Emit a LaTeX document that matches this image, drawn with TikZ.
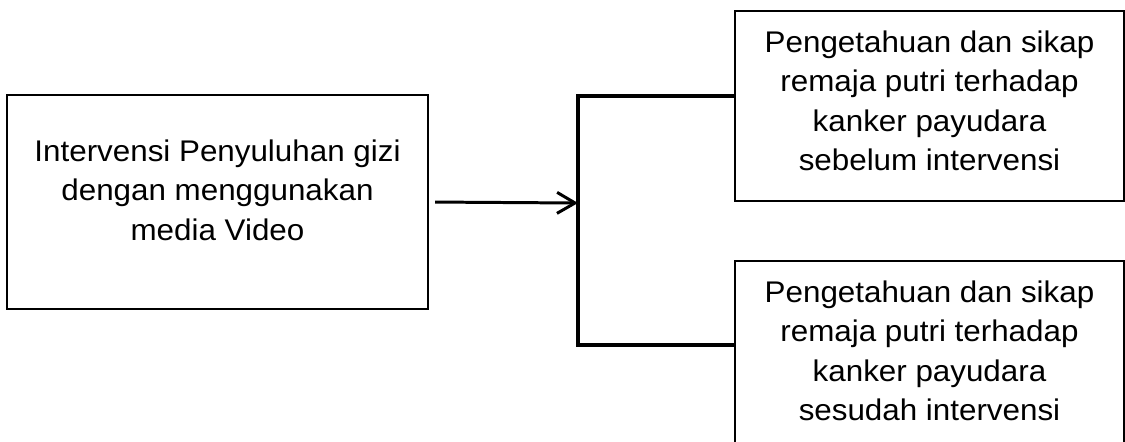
\documentclass[tikz,border=0pt]{standalone}
\usepackage{fontspec}
\setmainfont[FakeStretch=1.05]{Liberation Sans}
\usetikzlibrary{arrows.meta,positioning,calc}

\begin{document}
\begin{tikzpicture}[
  x=0.02cm,y=-0.02cm,
  font=\fontsize{17pt}{22.4pt}\selectfont,
  box/.style={draw=black,line width=1.4pt,fill=white,align=center,
              inner sep=0pt,text=black},
  srcbox/.style={box,minimum width=8.42cm,minimum height=4.28cm,text depth=13.6pt},
  outbox/.style={box,minimum width=7.78cm,minimum height=3.8cm,text depth=6pt},
  flow/.style={-{Straight Barb[length=3.6mm,width=4.2mm,line width=1.7pt]},
               line width=1.7pt,shorten <=1.2mm},
  bracket/.style={line width=2.2pt,line join=miter},
]
  \useasboundingbox (0,0) rectangle (1125,441);
  \clip (0,0) rectangle (1125,441);

  \node[srcbox] (intv) at (217.5,202)
    {Intervensi Penyuluhan gizi\\dengan menggunakan\\media Video};
  \node[outbox] (pre) at (929.5,106)
    {Pengetahuan dan sikap\\remaja putri terhadap\\kanker payudara\\sebelum intervensi};
  \node[outbox] (post) at (929.5,356)
    {Pengetahuan dan sikap\\remaja putri terhadap\\kanker payudara\\sesudah intervensi};

  % split point of the bracket
  \coordinate (fork) at (578,203);

  \draw[bracket] ([yshift=0.2cm]pre.west) -| (fork) |- ([yshift=0.22cm]post.west);
  \draw[flow] (intv.east) -- (fork);
\end{tikzpicture}
\end{document}
